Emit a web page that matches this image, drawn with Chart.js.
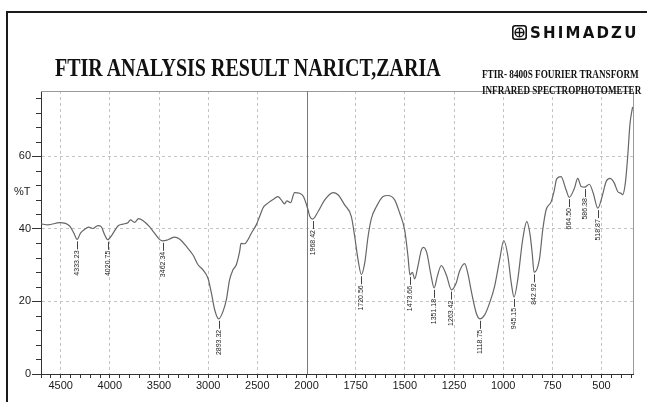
<!DOCTYPE html>
<html>
<head>
<meta charset="utf-8">
<script src="https://cdn.jsdelivr.net/npm/chart.js@4.4.1/dist/chart.umd.min.js"></script>
<style>
  html,body{margin:0;padding:0;background:#fff;}
  #wrap{position:relative;width:647px;height:402px;overflow:hidden;background:#fff;}
  #frame{position:absolute;left:6px;top:11px;width:700px;height:500px;
         border-left:2px solid #1a1a1a;border-top:2px solid #1a1a1a;}
  canvas{position:absolute;left:0;top:0;}
  .t{position:absolute;white-space:nowrap;color:#111;transform-origin:0 0;}
  #title{left:55px;top:53px;font:bold 20px "Liberation Serif","Times New Roman",serif;transform:scaleY(1.25);}
  #sub1{left:482px;top:68px;font:bold 9.2px "Liberation Serif","Times New Roman",serif;transform:scaleY(1.3);}
  #sub2{left:482px;top:84px;font:bold 9.1px "Liberation Serif","Times New Roman",serif;transform:scaleY(1.3);}
  #logo{left:512px;top:24px;font:bold 15px "DejaVu Sans",sans-serif;letter-spacing:2.2px;}
  #logo svg{vertical-align:-2px;margin-right:3px;}
  #ylab{left:14px;top:185px;font:11px "Liberation Sans",Arial,sans-serif;color:#222;}
</style>
</head>
<body>
<div id="wrap">
  <div id="frame"></div>
  <canvas id="ftir" width="647" height="402"></canvas>
  <div class="t" id="logo"><svg width="15" height="15" viewBox="0 0 15 15">
    <rect x="0.8" y="0.8" width="13.4" height="13.4" rx="2.5" fill="none" stroke="#111" stroke-width="1.6"/>
    <circle cx="7.5" cy="7.5" r="4.4" fill="none" stroke="#111" stroke-width="1.4"/>
    <path d="M7.5 3.1V11.9M3.1 7.5H11.9" stroke="#111" stroke-width="1.3"/></svg>SHIMADZU</div>
  <div class="t" id="title">FTIR ANALYSIS RESULT NARICT,ZARIA</div>
  <div class="t" id="sub1">FTIR- 8400S FOURIER TRANSFORM</div>
  <div class="t" id="sub2">INFRARED SPECTROPHOTOMETER</div>
  <div class="t" id="ylab">%T</div>
</div>
<script>
/* ---------- spectrum ---------- */
const wavenumber = [
  4700,4629,4510,4409,4365,4333,4297,4256,4216,4172,4121,4088,4053,4021,3979,
  3918,3868,3817,3790,3749,3708,3665,3597,3546,3495,3462,3420,3394,3343,3292,
  3208,3154,3103,3053,3002,2967,2934,2893,2850,2815,2782,2748,2714,2680,2666,
  2629,2596,2561,2511,2477,2444,2393,2325,2291,2257,2223,2200,2162,2122,2071,
  2031,1992,1983,1968,1941,1907,1865,1840,1806,1772,1755,1738,1721,1704,1687,
  1670,1645,1611,1586,1552,1526,1501,1484,1474,1462,1450,1434,1416,1405,1388,
  1369,1351,1335,1315,1289,1263,1239,1222,1196,1180,1162,1137,1119,1094,1069,
  1044,1018, 997, 977, 959, 945, 926, 901, 880, 863, 852, 843, 816, 799, 782,
   756, 740, 728, 706, 680, 664, 638, 621, 604, 586, 562, 542, 519, 497, 477,
   457, 435, 418, 401, 393, 379, 367, 355, 342
];
const transmittance = [
  41.4,41.1,41.7,40.8,38.8,37.1,38.9,39.9,40.5,40.1,40.9,40.6,38.4,37.0,38.3,
  40.8,41.3,41.7,42.5,41.8,42.8,42.3,40.6,38.8,37.1,36.7,36.9,37.2,37.7,37.2,
  34.7,32.8,30.1,28.7,26.4,22.3,17.7,15.2,17.2,20.5,26.0,28.7,30.1,33.8,36.0,
  35.9,37.0,38.8,41.1,43.4,45.7,47.1,48.4,48.9,48.0,46.9,47.7,47.2,50.0,49.8,
  48.9,45.2,43.4,42.7,44.8,48.0,50.0,49.4,46.6,43.4,37.9,31.5,27.4,30.6,37.9,
  42.9,46.1,48.9,49.2,48.0,44.3,39.7,32.4,27.3,28.0,26.2,29.6,34.2,34.9,33.3,
  27.8,23.7,26.9,29.9,27.3,23.2,25.1,28.3,30.4,27.8,22.8,16.8,15.2,16.3,19.6,
  24.1,31.5,36.8,32.8,25.1,21.2,26.0,37.0,42.0,38.3,33.0,28.0,31.5,39.7,45.2,
  47.5,50.7,53.8,54.4,50.7,48.7,51.2,53.9,51.7,51.5,52.3,49.8,45.7,48.9,53.0,
  53.9,52.6,50.3,49.8,49.4,52.6,59.9,69.1,73.6
];

/* peak picks printed under the trace */
const peakWn = [4333.23,4020.75,3462.34,2893.32,1968.42,1720.56,1473.66,
                1351.18,1263.42,1118.75,945.15,842.92,664.50,586.38,518.87];

/* axis ticks */
const xMajor = [4500,4000,3500,3000,2500,2000,1750,1500,1250,1000,750,500];
const yLabels = [0,20,40,60];
const X_MIN = 340, X_MAX = 4700, Y_MAX = 78;

/* ---------- helpers ---------- */
// chart is printed 2x expanded below 2000 cm-1
const tr  = w => w >= 2000 ? w : 2000 - (2000 - w) * 2;
const inv = v => v >= 2000 ? v : 2000 - (2000 - v) / 2;

function interpT (w) {
  for (let i = 0; i < wavenumber.length - 1; i++) {
    const a = wavenumber[i], b = wavenumber[i+1];
    if (w <= a && w >= b) {
      const f = (a - w) / (a - b);
      return transmittance[i] + f * (transmittance[i+1] - transmittance[i]);
    }
  }
  return transmittance[transmittance.length-1];
}

const points = wavenumber.map((w,i)=>({ x: tr(w), y: transmittance[i] }));
const majorSet = new Set(xMajor.map(tr));

const xTicks = [];
for (let v = tr(X_MAX); v >= tr(X_MIN); v -= 100) xTicks.push(v);
const yTicks = [];
for (let v = 0; v <= Y_MAX - 2; v += 4) yTicks.push(v);

/* ---------- decoration plugin ---------- */
const decor = {
  id:'decor',
  beforeDatasetsDraw (chart) {
    const { ctx, chartArea:a, scales:{ x, y } } = chart;
    ctx.save();
    ctx.lineWidth = 1;
    // upper / right frame of the plot
    ctx.strokeStyle = '#9a9a9a';
    ctx.beginPath();
    ctx.moveTo(a.left, a.top + .5);
    ctx.lineTo(a.right + .5, a.top + .5);
    ctx.lineTo(a.right + .5, a.bottom);
    ctx.stroke();
    // solid divider at 2000
    const px = Math.round(x.getPixelForValue(tr(2000))) + .5;
    ctx.strokeStyle = '#7a7a7a';
    ctx.beginPath(); ctx.moveTo(px, a.top); ctx.lineTo(px, a.bottom); ctx.stroke();
    // short minor ticks on y
    ctx.strokeStyle = '#333';
    yTicks.forEach(v => {
      if (v % 20 === 0) return;
      const py = Math.round(y.getPixelForValue(v)) + .5;
      ctx.beginPath(); ctx.moveTo(a.left - 5, py); ctx.lineTo(a.left, py); ctx.stroke();
    });
    ctx.restore();
  },
  afterDatasetsDraw (chart) {
    const { ctx, scales:{ x, y } } = chart;
    ctx.save();
    ctx.strokeStyle = '#444';
    ctx.fillStyle   = '#222';
    ctx.lineWidth   = 1;
    ctx.font = '7px "Liberation Sans", Arial, sans-serif';
    peakWn.forEach(w => {
      const px = Math.round(x.getPixelForValue(tr(w))) + .5;
      const py = y.getPixelForValue(interpT(w));
      ctx.beginPath(); ctx.moveTo(px, py + 2); ctx.lineTo(px, py + 10); ctx.stroke();
      ctx.save();
      ctx.translate(px, py + 11);
      ctx.rotate(-Math.PI/2);
      ctx.textAlign = 'right'; ctx.textBaseline = 'middle';
      ctx.fillText(w.toFixed(2), 0, 0);
      ctx.restore();
    });
    ctx.restore();
  }
};

/* ---------- chart ---------- */
new Chart(document.getElementById('ftir'), {
  type:'line',
  data:{ datasets:[{
    data: points,
    borderColor:'#666', borderWidth:1.2,
    pointRadius:0, fill:false,
    cubicInterpolationMode:'monotone'
  }]},
  options:{
    responsive:false, animation:false, events:[],
    layout:{ padding:{ left:0, top:91, right:14, bottom:0 } },
    plugins:{ legend:{ display:false }, tooltip:{ enabled:false } },
    scales:{
      x:{
        type:'linear', reverse:true, min:tr(X_MIN), max:tr(X_MAX),
        afterBuildTicks: s => { s.ticks = xTicks.map(v=>({ value:v })); },
        afterFit: s => { s.height = 28; },
        ticks:{ autoSkip:false, maxRotation:0, padding:1, color:'#1a1a1a',
                font:{ family:'"Liberation Sans", Arial, sans-serif', size:11 },
                callback: v => majorSet.has(v) ? String(inv(v)) : '' },
        grid:{ color: c => (c.tick && majorSet.has(c.tick.value) && c.tick.value !== 2000) ? '#c4c4c4' : 'rgba(0,0,0,0)',
               tickColor:'#333', tickLength:4, lineWidth:1 },
        border:{ color:'#333', width:1, dash:[3,3] }
      },
      y:{
        min:0, max:Y_MAX,
        afterBuildTicks: s => { s.ticks = yTicks.map(v=>({ value:v })); },
        afterFit: s => { s.width = 41; },
        ticks:{ autoSkip:false, padding:1, color:'#1a1a1a',
                font:{ family:'"Liberation Sans", Arial, sans-serif', size:11 },
                callback: v => yLabels.includes(v) ? String(v) : '' },
        grid:{ color: c => (c.tick && c.tick.value % 20 === 0 && c.tick.value > 0) ? '#c4c4c4' : 'rgba(0,0,0,0)',
               tickColor: c => (c.tick && c.tick.value % 20 === 0) ? '#333' : 'rgba(0,0,0,0)',
               tickLength:9, lineWidth:1 },
        border:{ color:'#333', width:1, dash:[3,3] }
      }
    }
  },
  plugins:[decor]
});
</script>
</body>
</html>
